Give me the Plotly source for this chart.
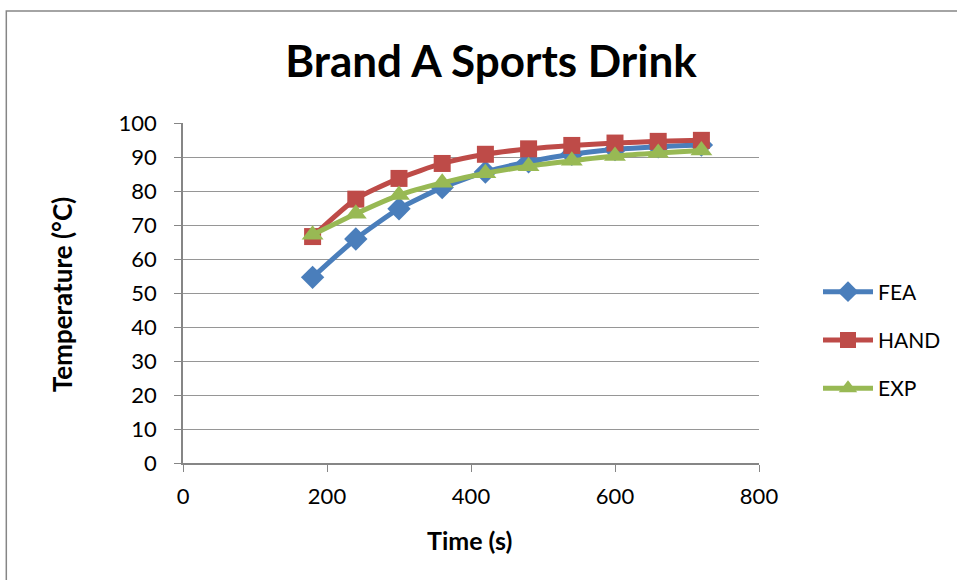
import plotly.graph_objects as go

# Heating curves for Brand A sports drink
time_s = [180, 240, 300, 360, 420, 480, 540, 600, 660, 720]
fea = [54.6, 65.9, 74.8, 81.0, 85.6, 88.6, 90.8, 92.2, 93.0, 93.5]
hand = [66.6, 77.6, 83.7, 88.1, 90.8, 92.4, 93.4, 94.1, 94.6, 94.9]
exp = [67.1, 73.3, 78.8, 82.4, 85.2, 87.3, 88.9, 90.3, 91.2, 91.9]

series = [
    ("FEA", fea, "#4A7EBB", "diamond", 18),
    ("HAND", hand, "#BE4B48", "square", 17),
    ("EXP", exp, "#98B954", "triangle-up", 19),
]

FONT = "Lato, Carlito, Calibri, sans-serif"

fig = go.Figure()
for i, (name, vals, color, symbol, size) in enumerate(series):
    fig.add_trace(go.Scatter(
        x=time_s, y=vals, name=name, mode="lines+markers",
        line=dict(color=color, width=5, shape="spline", smoothing=0.6),
        marker=dict(symbol=symbol, size=size, color=color),
        legendgroup=f"g{i}",
    ))

W, H = 957, 580
L, R, T, B = 183, 760, 123, 463
pw, ph = R - L, B - T

fig.update_layout(
    width=W, height=H,
    margin=dict(l=L, r=W - R, t=T, b=H - B),
    paper_bgcolor="white", plot_bgcolor="white",
    font=dict(family=FONT, color="black", size=22),
    title=dict(text="<b>Brand A Sports Drink</b>", x=491 / W, xanchor="center",
               y=1 - 62 / H, yanchor="middle", font=dict(size=44, family=FONT)),
    showlegend=True,
    legend=dict(x=(818 - L) / pw, xanchor="left", y=(B - 340) / ph, yanchor="middle",
                font=dict(size=21, family=FONT), tracegroupgap=18,
                bgcolor="rgba(0,0,0,0)", itemwidth=50),
    xaxis=dict(range=[0, 800], dtick=200, tick0=0, showgrid=False,
               showline=True, linecolor="#868686", linewidth=1.5,
               ticks="outside", ticklen=7, tickcolor="#868686",
               tickfont=dict(size=22), zeroline=False, ticklabelstandoff=6),
    yaxis=dict(range=[0, 100], dtick=10, tick0=0, showgrid=True,
               gridcolor="#969696", gridwidth=1,
               showline=True, linecolor="#868686", linewidth=1.5,
               ticks="outside", ticklen=7, tickcolor="#868686",
               tickfont=dict(size=22), zeroline=False, ticklabelstandoff=13),
    annotations=[
        dict(text="<b>Time (s)</b>", xref="paper", yref="paper",
             x=(470 - L) / pw, y=(B - 540) / ph, xanchor="center", yanchor="middle",
             showarrow=False, font=dict(size=25, family=FONT)),
        dict(text="<b>Temperature (°C)</b>", xref="paper", yref="paper",
             x=(62 - L) / pw, y=(B - 295) / ph, xanchor="center", yanchor="middle",
             textangle=-90, showarrow=False, font=dict(size=26, family=FONT)),
    ],
    shapes=[dict(type="rect", xref="paper", yref="paper",
                 x0=(6 - L) / pw, x1=(W + 20 - L) / pw,
                 y0=(B - (H + 20)) / ph, y1=(B - 11) / ph,
                 line=dict(color="#868686", width=1.5), fillcolor="rgba(0,0,0,0)",
                 layer="below")],
)

fig.write_html("out.html")
